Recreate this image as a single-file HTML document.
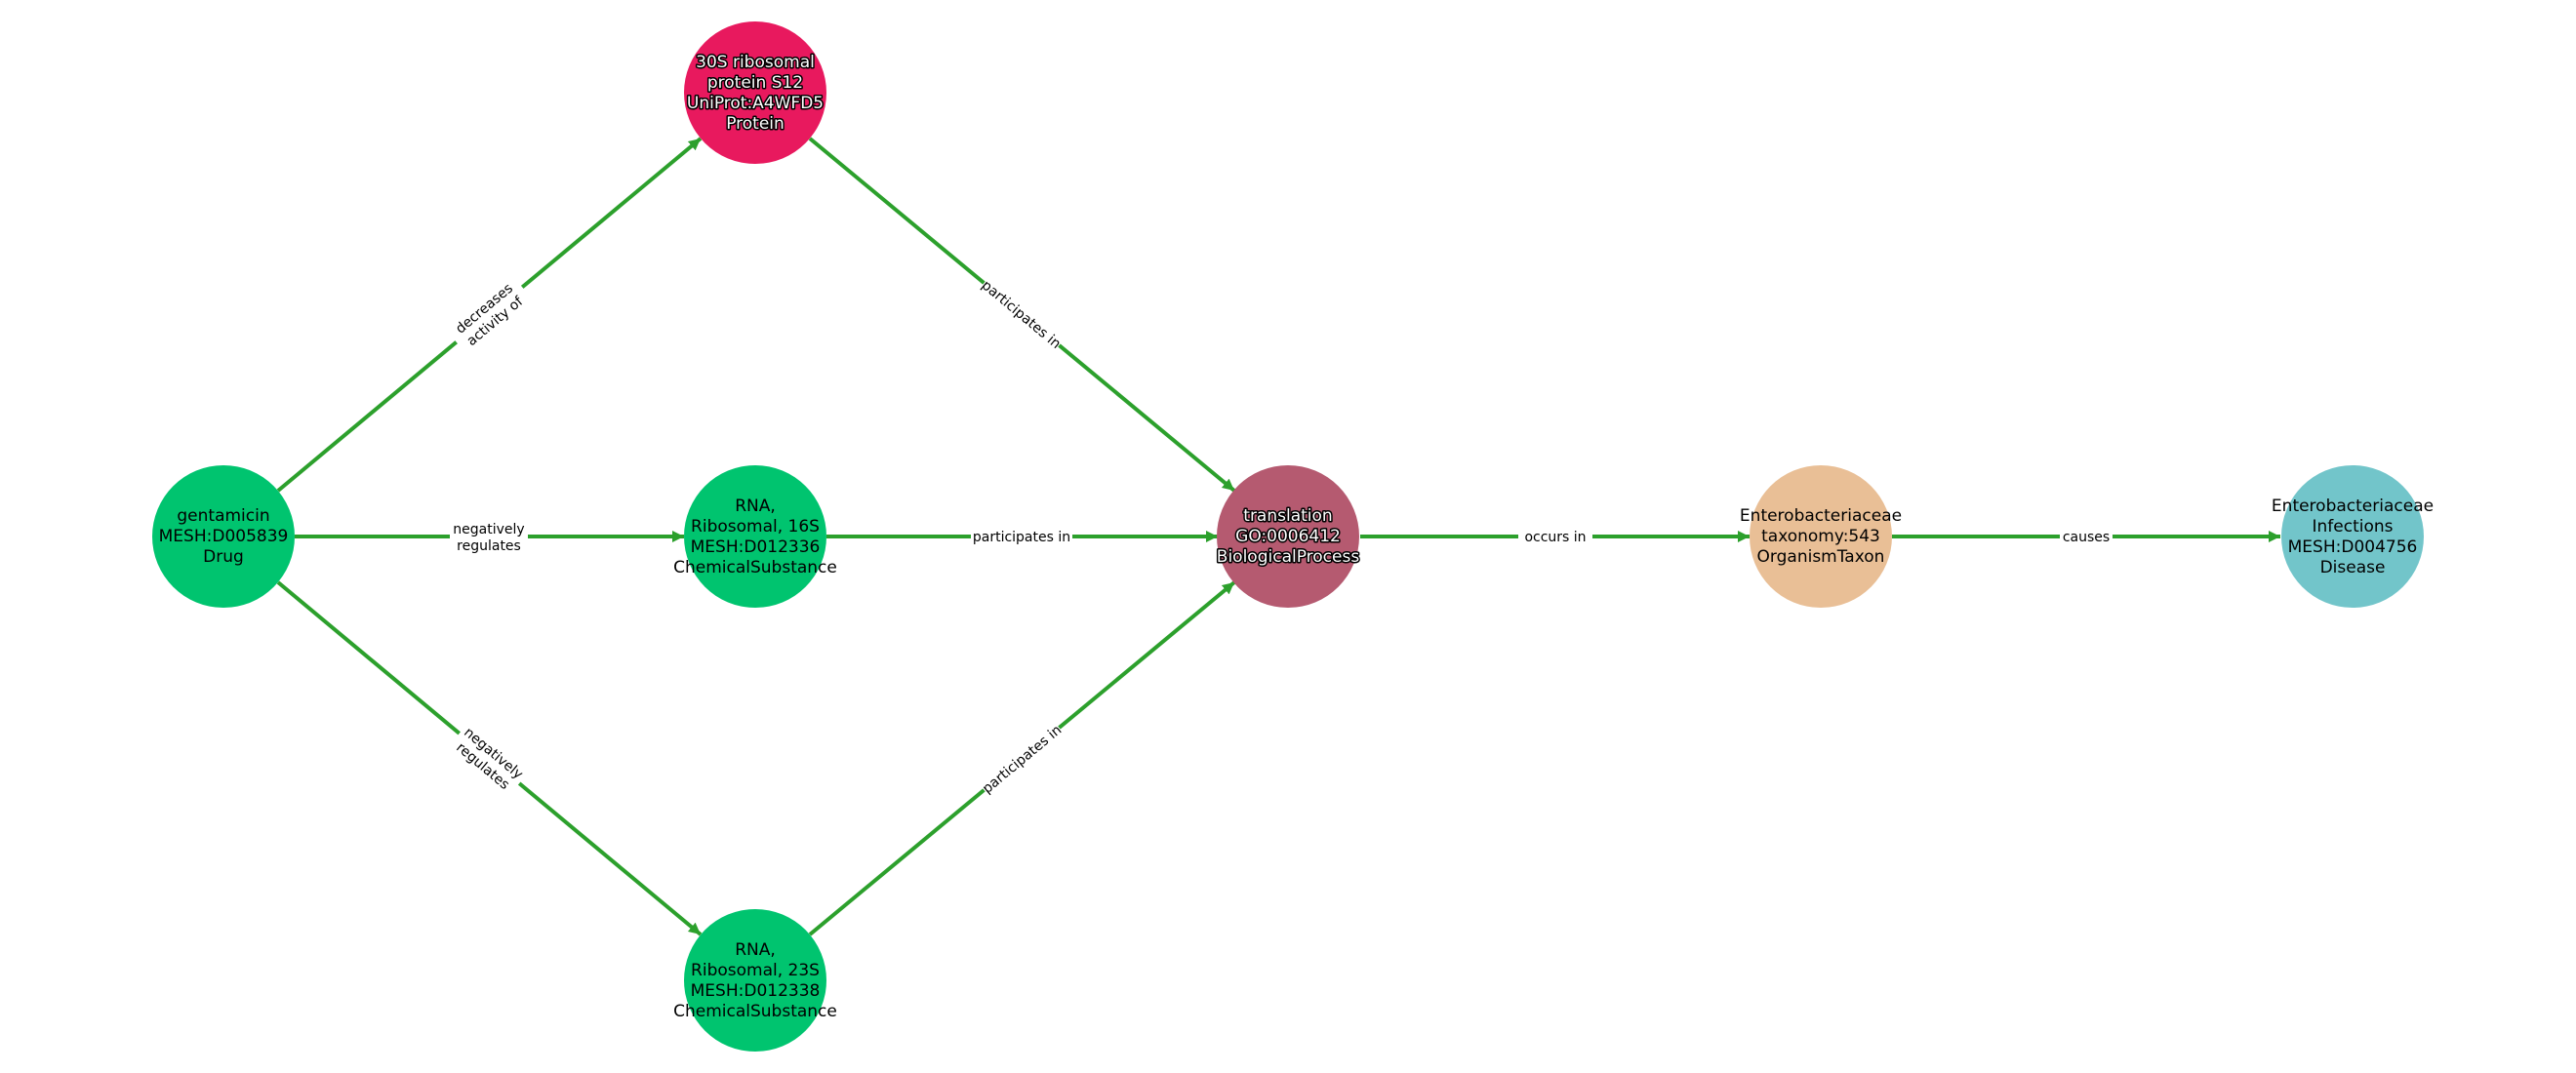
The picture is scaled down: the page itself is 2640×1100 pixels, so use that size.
<!DOCTYPE html>
<html><head><meta charset="utf-8"><style>
html,body{margin:0;padding:0;background:#fff;}
svg{display:block;}
.n{font-family:"DejaVu Sans","Liberation Sans",sans-serif;font-size:17px;text-anchor:middle;fill:#000;}
.w{fill:#fff;stroke:#000;stroke-width:3px;paint-order:stroke;stroke-linejoin:round;}
.e{font-family:"DejaVu Sans","Liberation Sans",sans-serif;font-size:14px;text-anchor:middle;fill:#000;}
</style></head><body>
<svg width="2640" height="1100" viewBox="0 0 2640 1100" xmlns="http://www.w3.org/2000/svg">
<defs>
<marker id="a" markerUnits="userSpaceOnUse" markerWidth="14" markerHeight="12" refX="12" refY="6" orient="auto">
<path d="M0,0 L12,6 L0,12 Z" fill="#2ca02c"/>
</marker>
</defs>
<g stroke="#2ca02c" stroke-width="4" fill="none" marker-end="url(#a)">
<line x1="285" y1="503" x2="718" y2="142"/>
<line x1="830" y1="142" x2="1265" y2="503"/>
<line x1="285" y1="597" x2="718" y2="958"/>
<line x1="830" y1="958" x2="1265" y2="597"/>
<line x1="302" y1="550" x2="701" y2="550"/>
<line x1="847" y1="550" x2="1248" y2="550"/>
<line x1="1394" y1="550" x2="1793" y2="550"/>
<line x1="1939" y1="550" x2="2337" y2="550"/>
</g>
<!-- edge labels -->
<g>
<g transform="translate(501,322) rotate(-39.9)">
<rect x="-44" y="-18" width="88" height="36" fill="#fff"/>
<text class="e" y="-3">decreases</text><text class="e" y="14">activity of</text></g>
<g transform="translate(1047,322) rotate(39.8)">
<rect x="-50" y="-10" width="100" height="20" fill="#fff"/>
<text class="e" y="5">participates in</text></g>
<g transform="translate(501,778) rotate(39.9)">
<rect x="-40" y="-18" width="80" height="36" fill="#fff"/>
<text class="e" y="-3">negatively</text><text class="e" y="14">regulates</text></g>
<g transform="translate(1047,778) rotate(-39.8)">
<rect x="-50" y="-10" width="100" height="20" fill="#fff"/>
<text class="e" y="5">participates in</text></g>
<rect x="461" y="532" width="80" height="36" fill="#fff"/>
<text class="e" x="501" y="547">negatively</text><text class="e" x="501" y="564">regulates</text>
<rect x="995" y="540" width="104" height="20" fill="#fff"/>
<text class="e" x="1047" y="555">participates in</text>
<rect x="1556" y="540" width="76" height="20" fill="#fff"/>
<text class="e" x="1594" y="555">occurs in</text>
<rect x="2111" y="540" width="54" height="20" fill="#fff"/>
<text class="e" x="2138" y="555">causes</text>
</g>
<!-- nodes -->
<circle cx="229" cy="550" r="73" fill="#00c46f"/>
<circle cx="774" cy="95" r="73" fill="#e8195e"/>
<circle cx="774" cy="550" r="73" fill="#00c46f"/>
<circle cx="774" cy="1005" r="73" fill="#00c46f"/>
<circle cx="1320" cy="550" r="73" fill="#b55a70"/>
<circle cx="1866" cy="550" r="73" fill="#e9bf96"/>
<circle cx="2411" cy="550" r="73" fill="#72c5ca"/>
<text class="n" x="229" y="534">gentamicin</text>
<text class="n" x="229" y="555">MESH:D005839</text>
<text class="n" x="229" y="576">Drug</text>
<text class="n w" x="774" y="69">30S ribosomal</text>
<text class="n w" x="774" y="90">protein S12</text>
<text class="n w" x="774" y="111">UniProt:A4WFD5</text>
<text class="n w" x="774" y="132">Protein</text>
<text class="n" x="774" y="524">RNA,</text>
<text class="n" x="774" y="545">Ribosomal, 16S</text>
<text class="n" x="774" y="566">MESH:D012336</text>
<text class="n" x="774" y="587">ChemicalSubstance</text>
<text class="n" x="774" y="979">RNA,</text>
<text class="n" x="774" y="1000">Ribosomal, 23S</text>
<text class="n" x="774" y="1021">MESH:D012338</text>
<text class="n" x="774" y="1042">ChemicalSubstance</text>
<text class="n w" x="1320" y="534">translation</text>
<text class="n w" x="1320" y="555">GO:0006412</text>
<text class="n w" x="1320" y="576">BiologicalProcess</text>
<text class="n" x="1866" y="534">Enterobacteriaceae</text>
<text class="n" x="1866" y="555">taxonomy:543</text>
<text class="n" x="1866" y="576">OrganismTaxon</text>
<text class="n" x="2411" y="524">Enterobacteriaceae</text>
<text class="n" x="2411" y="545">Infections</text>
<text class="n" x="2411" y="566">MESH:D004756</text>
<text class="n" x="2411" y="587">Disease</text>
</svg>
</body></html>
